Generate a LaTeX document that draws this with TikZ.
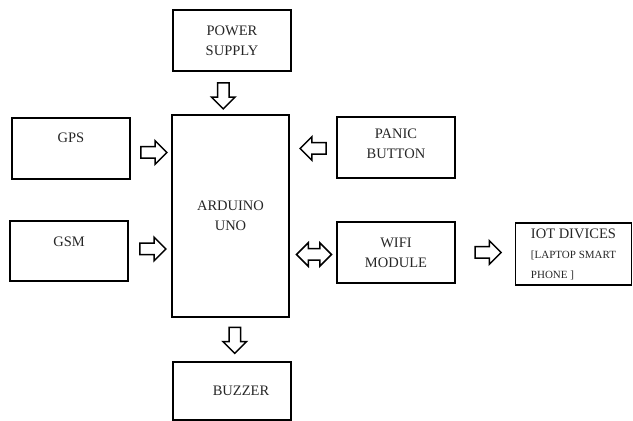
\documentclass[tikz,border=0pt]{standalone}
\usepackage{fontspec}
\setmainfont{Liberation Serif}
\usepackage{tikz}
\usetikzlibrary{shapes,arrows,positioning,calc}

\newcommand{\iotsmall}{\fontsize{11}{16.5}\selectfont}

\tikzset{
    blk/.style={draw, line width=1.9pt, minimum width=118pt, minimum height=61pt,
        inner sep=0pt, align=center, text=black!85,
        font=\fontsize{14.5}{20}\selectfont},
    toptxt/.style={anchor=north, inner sep=0pt, text=black!85,
        font=\fontsize{14.5}{20}\selectfont},
    blkarr/.style={single arrow, draw, line width=1.5pt, inner sep=5pt,
        minimum height=26pt, single arrow head extend=6pt},
    dblarr/.style={double arrow, draw, line width=1.5pt, inner sep=5pt,
        minimum height=35pt, double arrow head extend=6pt}
}

\begin{document}
\begin{tikzpicture}[x=1pt,y=1pt]
    \useasboundingbox (0,0) rectangle (633,421);

    % Controller
    \node[blk, minimum width=117pt, minimum height=202pt] (arduino) at (230.5,205) {ARDUINO\\UNO};

    % Supply on top
    \node[blk] (power) at (232,380.5) {POWER\\SUPPLY};
    \node[blkarr, shape border rotate=270] (pwrarr) at ($(power.south)!.5!(arduino.north)+(-8,0)$) {};

    % Inputs left
    \node[blk] (gps) at (71,272.5) {};
    \node[toptxt] (gpstxt) at ($(gps.north)+(0,-15.5)$) {GPS};
    \node[blk, minimum height=60pt] (gsm) at (69,170) {};
    \node[toptxt] (gsmtxt) at ($(gsm.north)+(0,-16.5)$) {GSM};
    \node[blkarr] (gpsarr) at ($(gps.east)!.5!(arduino.west |- gps.east)+(0,-4)$) {};
    \node[blkarr] (gsmarr) at ($(gsm.east)!.5!(arduino.west |- gsm.east)+(0,2)$) {};

    % Right side
    \node[blk, text depth=8pt] (panic) at (396,273.5) {PANIC\\BUTTON};
    \node[blkarr, shape border rotate=180] (panicarr) at ($(panic.west)!.5!(arduino.east |- panic.west)+(3,-1)$) {};
    \node[blk] (wifi) at (396,168.5) {WIFI\\MODULE};
    \node[dblarr] (wifiarr) at ($(wifi.west)!.5!(arduino.east |- wifi.west)+(1,-2)$) {};

    % IoT
    \node[blk, minimum width=116pt, minimum height=62pt, align=left] (iot) at (573.5,167)
        {IOT DIVICES\\\iotsmall [LAPTOP SMART\\\iotsmall PHONE ]};
    \node[blkarr] (iotarr) at ($(wifi.east)!.5!(iot.west |- wifi.east)$) {};

    % Output
    \node[blk, minimum height=58pt] (buzzer) at (232,30) {\hspace*{18pt}BUZZER};
    \node[blkarr, shape border rotate=270] (buzarr) at ($(arduino.south)!.5!(buzzer.north)+(3.5,2)$) {};
\end{tikzpicture}
\end{document}
